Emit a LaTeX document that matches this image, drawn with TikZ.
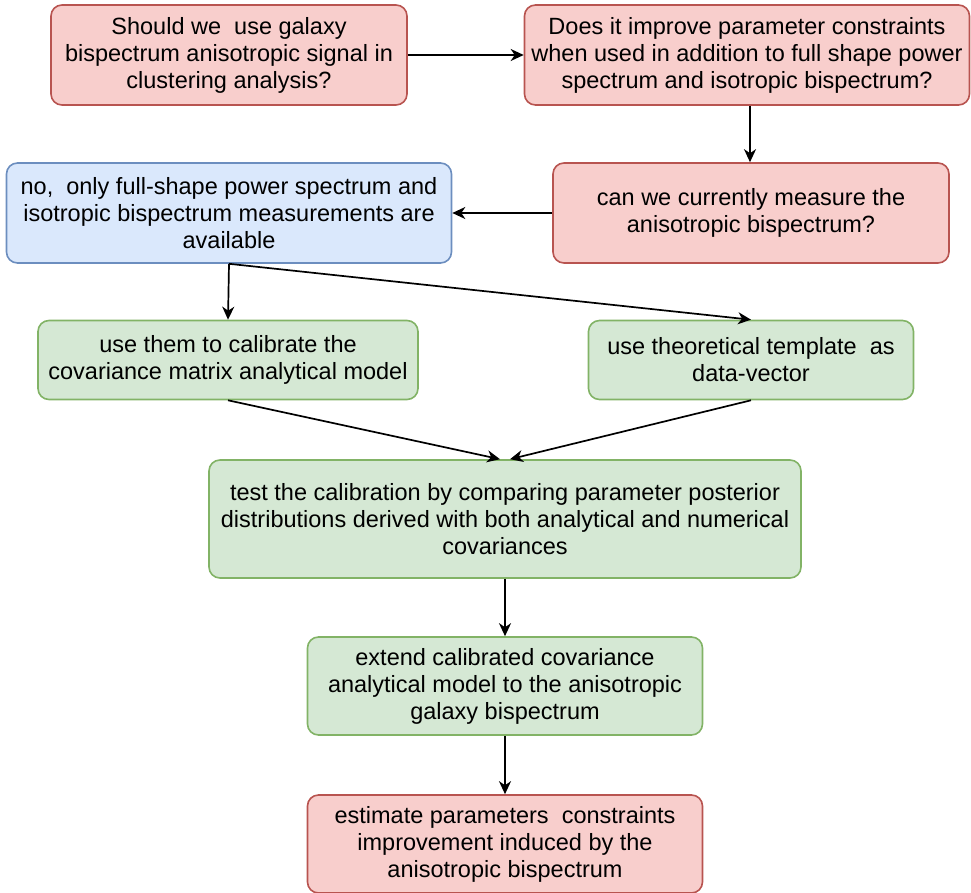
\documentclass[tikz,border=0pt]{standalone}
\usepackage{fontspec}
\setmainfont{Liberation Sans}
\usetikzlibrary{arrows.meta}

\definecolor{redfill}{HTML}{F8CECC}
\definecolor{redline}{HTML}{B85450}
\definecolor{bluefill}{HTML}{DAE8FC}
\definecolor{blueline}{HTML}{6C8EBF}
\definecolor{greenfill}{HTML}{D5E8D4}
\definecolor{greenline}{HTML}{82B366}

\begin{document}
\begin{tikzpicture}[x=1pt,y=-1pt,
    box/.style={draw,rounded corners=11pt,line width=1.6pt,align=center,inner sep=0,
        font=\fontsize{23.5}{27}\selectfont},
    redbox/.style={box,draw=redline,fill=redfill},
    bluebox/.style={box,draw=blueline,fill=bluefill},
    greenbox/.style={box,draw=greenline,fill=greenfill},
    flow/.style={-{Stealth[length=13pt,width=12pt,inset=4pt]},line width=1.7pt}]
    \useasboundingbox (0,0) rectangle (971,893);

    \node at (229,55) [redbox,minimum height=100pt,minimum width=356pt] (should) {Should we\ \ use galaxy\\bispectrum anisotropic signal in\\clustering analysis?};
    \node at (747,55) [redbox,minimum height=100pt,minimum width=445pt] (improve) {Does it improve parameter constraints\\when used in addition to full shape power\\spectrum and isotropic bispectrum?};
    \node at (751,213) [redbox,minimum height=100pt,minimum width=396pt] (measure) {can we currently measure the\\anisotropic bispectrum?};
    \node at (229,213) [bluebox,minimum height=100pt,minimum width=445pt] (nofull) {no,\ \ only full-shape power spectrum and\\isotropic bispectrum measurements are\\available};

    \node at (228,360) [greenbox,minimum height=79pt,minimum width=380pt] (calib) {use them to calibrate the\\covariance matrix analytical model};
    \node at (751,360) [greenbox,minimum height=79pt,minimum width=325pt] (template) {use theoretical template\ \ as\\data-vector};
    \node at (505,519) [greenbox,minimum height=118pt,minimum width=592pt] (test) {test the calibration by comparing parameter posterior\\distributions derived with both analytical and numerical\\covariances};
    \node at (505,686) [greenbox,minimum height=98pt,minimum width=395pt] (extend) {extend calibrated covariance\\analytical model to the anisotropic\\galaxy bispectrum};
    \node at (505,844) [redbox,minimum height=98pt,minimum width=395pt] (estimate) {estimate parameters\ \ constraints\\improvement induced by the\\anisotropic bispectrum};

    \draw[flow] (should.east) -- (improve.west);
    \draw[flow] ([xshift=3pt]improve.south) -- ([xshift=3pt]improve.south |- measure.north);
    \draw[flow] (measure.west) -- (nofull.east);
    \draw[flow] (nofull.south) -- (calib.north);
    \draw[flow] (nofull.south) -- (template.north);
    \draw[flow] (calib.south) -- ([xshift=-5pt]test.north);
    \draw[flow] (template.south) -- ([xshift=5pt]test.north);
    \draw[flow] (test.south) -- (extend.north);
    \draw[flow] (extend.south) -- (estimate.north);
\end{tikzpicture}
\end{document}
